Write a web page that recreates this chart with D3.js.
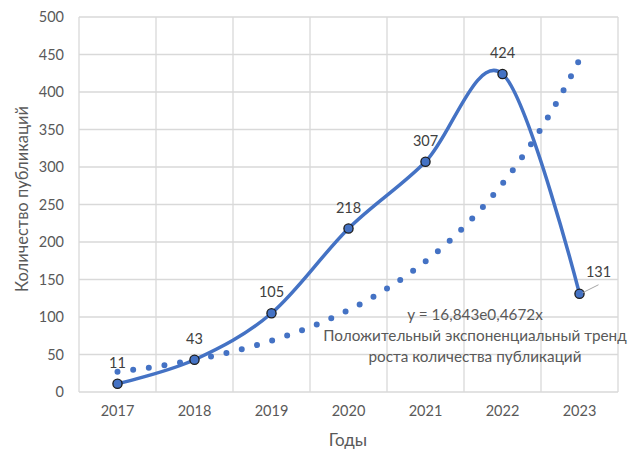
<!DOCTYPE html>
<html>
<head>
<meta charset="utf-8">
<script src="https://cdn.jsdelivr.net/npm/d3@7"></script>
<style>
  body { margin: 0; background: #fff; }
  text { font-family: Lato, "Liberation Sans", sans-serif; }
</style>
</head>
<body>
<script>
//chart data
var years = ['2017', '2018', '2019', '2020', '2021', '2022', '2023']
var counts = [11, 43, 105, 218, 307, 424, 131]
var yTicks = [0, 50, 100, 150, 200, 250, 300, 350, 400, 450, 500]
//trend line coefficients as printed on the chart (y = a * e^(b*x))
var trendA = 16.843
var trendB = 0.4672
var trendLabel = ['y = 16,843e0,4672x', 'Положительный экспоненциальный тренд', 'роста количества публикаций']

var w = 638, h = 450
var pLeft = 79, pRight = 618, pTop = 17, pBottom = 392 //plot area
var blue = '#4472C4', grid = '#d9d9d9', txt = '#595959'

var svg = d3.select('body').append('svg')
    .attr('width', w)
    .attr('height', h)

var x = d3.scaleBand().domain(years).range([pLeft, pRight])
var y = d3.scaleLinear().domain([0, 500]).range([pBottom, pTop])
var cx = function(yr) { return x(yr) + x.bandwidth() / 2 }

//horizontal gridlines
svg.append('g').selectAll('line')
    .data(yTicks)
    .enter().append('line')
    .attr('x1', pLeft).attr('x2', pRight)
    .attr('y1', function(d) { return y(d) }).attr('y2', function(d) { return y(d) })
    .attr('stroke', grid).attr('stroke-width', 1.3)

//vertical gridlines at category boundaries
var bounds = years.map(function(d) { return x(d) }).concat([pRight])
svg.append('g').selectAll('line')
    .data(bounds)
    .enter().append('line')
    .attr('x1', function(d) { return d }).attr('x2', function(d) { return d })
    .attr('y1', pTop).attr('y2', pBottom)
    .attr('stroke', grid).attr('stroke-width', 1.3)

//y axis
var yAxis = svg.append('g')
    .attr('transform', 'translate(' + (pLeft - 15) + ',0)')
    .call(d3.axisLeft(y).tickValues(yTicks).tickSize(0).tickPadding(0))
yAxis.select('.domain').remove()
yAxis.selectAll('text').attr('fill', txt).style('font-size', '14.5px')

//x axis
var xAxis = svg.append('g')
    .attr('transform', 'translate(0,' + pBottom + ')')
    .call(d3.axisBottom(x).tickSize(0).tickPadding(14))
xAxis.select('.domain').remove()
xAxis.selectAll('text').attr('fill', txt).style('font-size', '14.5px')

//axis titles
svg.append('text')
    .attr('transform', 'translate(22,' + 199 + ') rotate(-90)')
    .attr('text-anchor', 'middle')
    .attr('dy', '0.35em')
    .attr('fill', txt)
    .style('font-size', '16.5px')
    .text('Количество публикаций')

svg.append('text')
    .attr('x', 348)
    .attr('y', 446)
    .attr('text-anchor', 'middle')
    .attr('fill', txt)
    .style('font-size', '17px')
    .text('Годы')

//exponential trend, sampled between the first and last year
var steps = d3.range(0, 61).map(function(k) {
    var t = 1 + k / 10
    var px = cx(years[0]) + (t - 1) * x.step()
    return [px, y(trendA * Math.exp(trendB * t))]
})
svg.append('path')
    .attr('d', d3.line()(steps))
    .attr('fill', 'none')
    .attr('stroke', blue)
    .attr('stroke-width', 6)
    .attr('stroke-linecap', 'round')
    .attr('stroke-dasharray', '0 15.8')

//smoothed data line
var pts = years.map(function(d, i) { return [cx(d), y(counts[i])] })
svg.append('path')
    .attr('d', d3.line().curve(d3.curveCardinal.tension(0))(pts))
    .attr('fill', 'none')
    .attr('stroke', blue)
    .attr('stroke-width', 3.5)
    .attr('stroke-linecap', 'round')

//markers
svg.append('g').selectAll('circle')
    .data(pts)
    .enter().append('circle')
    .attr('cx', function(d) { return d[0] })
    .attr('cy', function(d) { return d[1] })
    .attr('r', 4.6)
    .attr('fill', blue)
    .attr('stroke', '#1a1a1a')
    .attr('stroke-width', 1.3)

//data labels
var last = counts.length - 1
svg.append('g').selectAll('text')
    .data(counts)
    .enter().append('text')
    .attr('x', function(d, i) { return i == last ? cx(years[i]) + 19 : cx(years[i]) })
    .attr('y', function(d, i) { return i == last ? y(d) - 17 : y(d) - 16 })
    .attr('text-anchor', 'middle')
    .attr('fill', '#404040')
    .style('font-size', '14.5px')
    .text(function(d) { return d })

//leader line for the last label
svg.append('line')
    .attr('x1', cx(years[last]) + 3).attr('y1', y(counts[last]) - 1)
    .attr('x2', cx(years[last]) + 19).attr('y2', y(counts[last]) - 9)
    .attr('stroke', '#a6a6a6').attr('stroke-width', 1)

//trend label
svg.append('g').selectAll('text')
    .data(trendLabel)
    .enter().append('text')
    .attr('x', 475)
    .attr('y', function(d, i) { return 320 + i * 21 })
    .attr('text-anchor', 'middle')
    .attr('fill', txt)
    .style('font-size', '15.3px')
    .text(function(d) { return d })
</script>
</body>
</html>
